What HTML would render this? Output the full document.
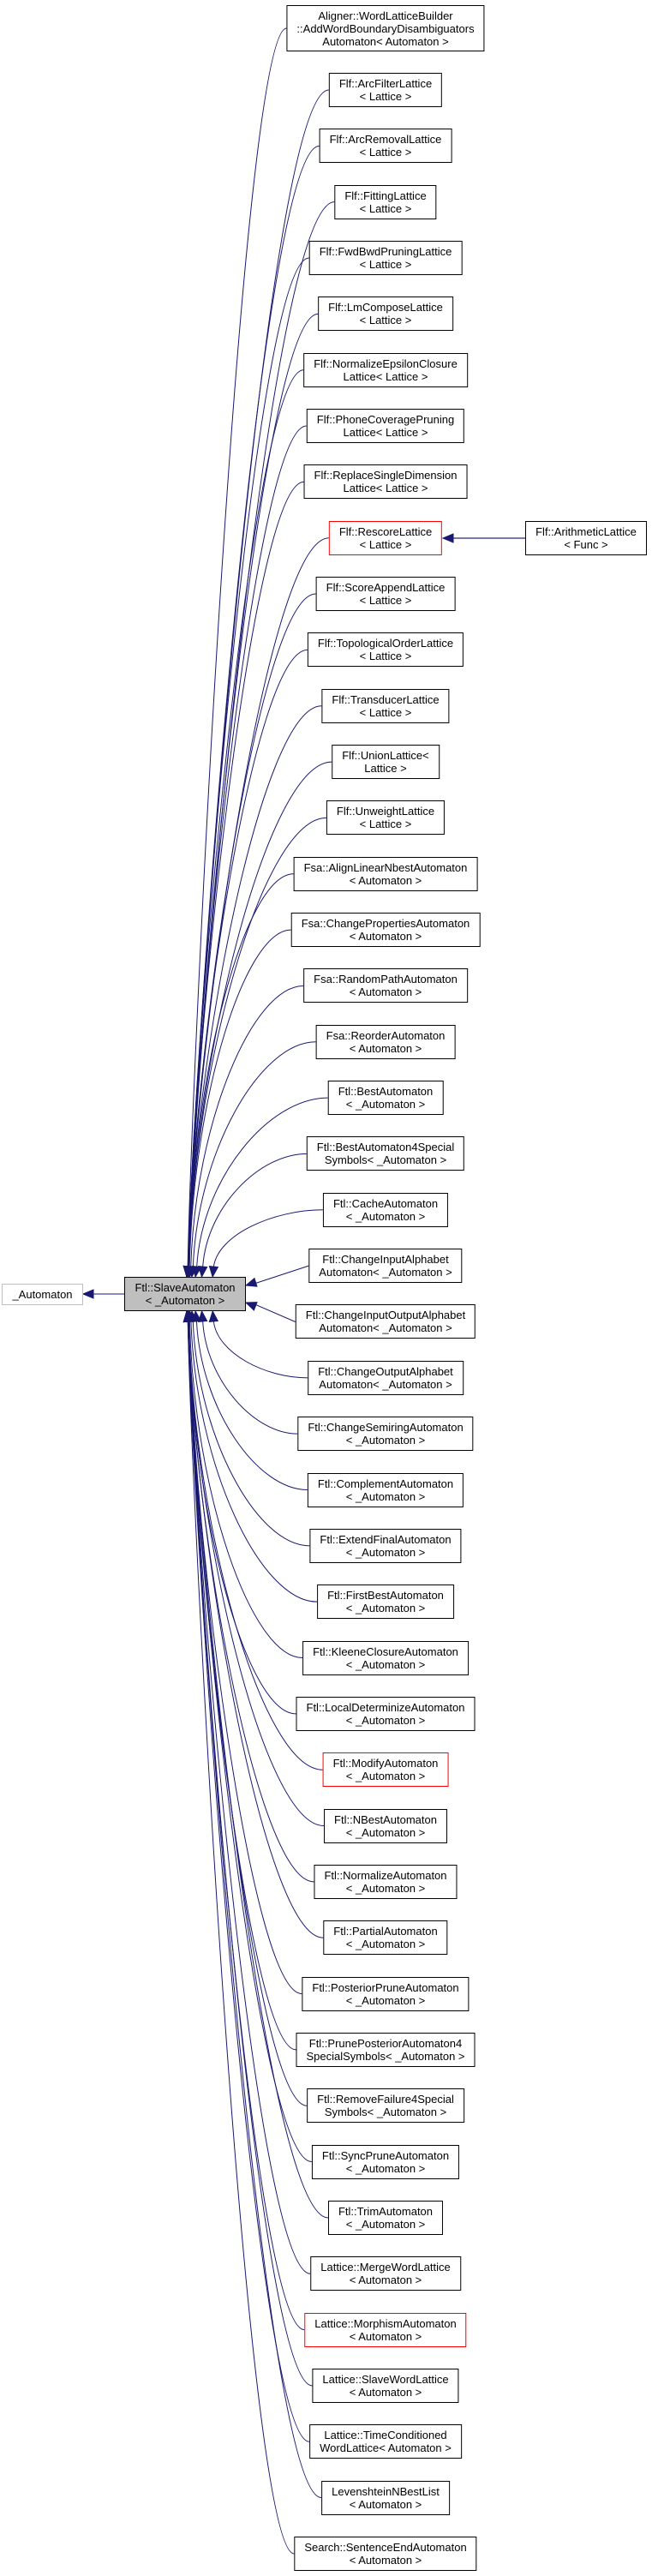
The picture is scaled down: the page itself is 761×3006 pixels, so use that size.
<!DOCTYPE html>
<html><head><meta charset="utf-8">
<style>
html,body{margin:0;padding:0;background:#fff;}
body{width:761px;height:3006px;position:relative;overflow:hidden;font-family:"Liberation Sans",Arial,sans-serif;}
.n{position:absolute;box-sizing:border-box;border:1px solid #000;background:#fff;font-size:13px;line-height:15px;text-align:center;white-space:nowrap;display:flex;flex-direction:column;justify-content:center;padding:0 11px;color:#000;}
.c{transform:translateX(-50%);left:450px;height:40px;}
.red{border-color:#ff0000;}
svg{position:absolute;left:0;top:0;}
</style></head><body>
<svg id="s" width="761" height="3006"></svg>
<div class="n" style="left:2px;top:1498px;width:95px;height:25px;border-color:#bfbfbf;">_Automaton</div>
<div class="n" id="center" style="left:145px;top:1490px;width:142px;height:40px;background:#bfbfbf;">Ftl::SlaveAutomaton<br>&lt; _Automaton &gt;</div>
<div class="n" id="arith" style="left:613px;top:608px;width:142px;height:40px;">Flf::ArithmeticLattice<br>&lt; Func &gt;</div>
<div id="kids"></div>
<script>
(function(){
var L=[
["Aligner::WordLatticeBuilder<br>::AddWordBoundaryDisambiguators<br>Automaton&lt; Automaton &gt;",0],
["Flf::ArcFilterLattice<br>&lt; Lattice &gt;",0],
["Flf::ArcRemovalLattice<br>&lt; Lattice &gt;",0],
["Flf::FittingLattice<br>&lt; Lattice &gt;",0],
["Flf::FwdBwdPruningLattice<br>&lt; Lattice &gt;",0],
["Flf::LmComposeLattice<br>&lt; Lattice &gt;",0],
["Flf::NormalizeEpsilonClosure<br>Lattice&lt; Lattice &gt;",0],
["Flf::PhoneCoveragePruning<br>Lattice&lt; Lattice &gt;",0],
["Flf::ReplaceSingleDimension<br>Lattice&lt; Lattice &gt;",0],
["Flf::RescoreLattice<br>&lt; Lattice &gt;",1],
["Flf::ScoreAppendLattice<br>&lt; Lattice &gt;",0],
["Flf::TopologicalOrderLattice<br>&lt; Lattice &gt;",0],
["Flf::TransducerLattice<br>&lt; Lattice &gt;",0],
["Flf::UnionLattice&lt;<br>Lattice &gt;",0],
["Flf::UnweightLattice<br>&lt; Lattice &gt;",0],
["Fsa::AlignLinearNbestAutomaton<br>&lt; Automaton &gt;",0],
["Fsa::ChangePropertiesAutomaton<br>&lt; Automaton &gt;",0],
["Fsa::RandomPathAutomaton<br>&lt; Automaton &gt;",0],
["Fsa::ReorderAutomaton<br>&lt; Automaton &gt;",0],
["Ftl::BestAutomaton<br>&lt; _Automaton &gt;",0],
["Ftl::BestAutomaton4Special<br>Symbols&lt; _Automaton &gt;",0],
["Ftl::CacheAutomaton<br>&lt; _Automaton &gt;",0],
["Ftl::ChangeInputAlphabet<br>Automaton&lt; _Automaton &gt;",0],
["Ftl::ChangeInputOutputAlphabet<br>Automaton&lt; _Automaton &gt;",0],
["Ftl::ChangeOutputAlphabet<br>Automaton&lt; _Automaton &gt;",0],
["Ftl::ChangeSemiringAutomaton<br>&lt; _Automaton &gt;",0],
["Ftl::ComplementAutomaton<br>&lt; _Automaton &gt;",0],
["Ftl::ExtendFinalAutomaton<br>&lt; _Automaton &gt;",0],
["Ftl::FirstBestAutomaton<br>&lt; _Automaton &gt;",0],
["Ftl::KleeneClosureAutomaton<br>&lt; _Automaton &gt;",0],
["Ftl::LocalDeterminizeAutomaton<br>&lt; _Automaton &gt;",0],
["Ftl::ModifyAutomaton<br>&lt; _Automaton &gt;",1],
["Ftl::NBestAutomaton<br>&lt; _Automaton &gt;",0],
["Ftl::NormalizeAutomaton<br>&lt; _Automaton &gt;",0],
["Ftl::PartialAutomaton<br>&lt; _Automaton &gt;",0],
["Ftl::PosteriorPruneAutomaton<br>&lt; _Automaton &gt;",0],
["Ftl::PrunePosteriorAutomaton4<br>SpecialSymbols&lt; _Automaton &gt;",0],
["Ftl::RemoveFailure4Special<br>Symbols&lt; _Automaton &gt;",0],
["Ftl::SyncPruneAutomaton<br>&lt; _Automaton &gt;",0],
["Ftl::TrimAutomaton<br>&lt; _Automaton &gt;",0],
["Lattice::MergeWordLattice<br>&lt; Automaton &gt;",0],
["Lattice::MorphismAutomaton<br>&lt; Automaton &gt;",1],
["Lattice::SlaveWordLattice<br>&lt; Automaton &gt;",0],
["Lattice::TimeConditioned<br>WordLattice&lt; Automaton &gt;",0],
["LevenshteinNBestList<br>&lt; Automaton &gt;",0],
["Search::SentenceEndAutomaton<br>&lt; Automaton &gt;",0]
];
var K=document.getElementById('kids'),S=document.getElementById('s'),C="#191970";
var P='';
function arrow(tx,ty,dx,dy){var l=Math.hypot(dx,dy);dx/=l;dy/=l;var bx=tx-dx*12,by=ty-dy*12;
return '<polygon points="'+tx+','+ty+' '+(bx-dy*5)+','+(by+dx*5)+' '+(bx+dy*5)+','+(by-dx*5)+'" fill="'+C+'" stroke="'+C+'"/>';}
for(var i=0;i<L.length;i++){
 var d=document.createElement('div');d.className='n c'+(L[i][1]?' red':'');d.innerHTML=L[i][0];
 var yt=i==0?6:85+(i-1)*65.34, h=i==0?54:40;
 d.style.top=yt+'px';d.style.height=h+'px';K.appendChild(d);
 var r=d.getBoundingClientRect();var sx=r.left,sy=yt+h/2;
 var dy=sy-1510,tx,ty,c1x,c1y,c2x,c2y,ex,ey;
 if(Math.abs(dy)<50){tx=287;ty=dy<0?1500:1520;
  ex=tx+12;ey=ty+(sy-ty)*0.12;
  P+='<path d="M'+sx+','+sy+' L'+ex+','+ey+'" fill="none" stroke="'+C+'"/>';
  P+=arrow(tx,ty,tx-sx,ty-sy);
 } else {
  var ad=Math.abs(dy)-50,sg=dy<0?-1:1;
  tx=218+45*Math.exp(-ad/120);ty=dy<0?1490:1530;
  ex=tx+(sx-tx)*0.01;ey=ty+sg*12;
  c1x=sx-(sx-tx)*0.45;c1y=sy;c2x=tx+(sx-tx)*0.05;c2y=ty+sg*Math.min(Math.abs(dy)*0.5,250);
  P+='<path d="M'+sx+','+sy+' C'+c1x+','+c1y+' '+c2x+','+c2y+' '+ex+','+ey+'" fill="none" stroke="'+C+'"/>';
  P+=arrow(tx,ty,(tx-ex),(ty-ey));
 }
}
P+='<line x1="145" y1="1510" x2="109" y2="1510" stroke="'+C+'"/>'+arrow(97,1510,-1,0);
P+='<line x1="613" y1="628" x2="529" y2="628" stroke="#4b4b8f" stroke-width="1.5"/>'+arrow(517,628,-1,0);
S.innerHTML=P;
})();
</script>
</body></html>
